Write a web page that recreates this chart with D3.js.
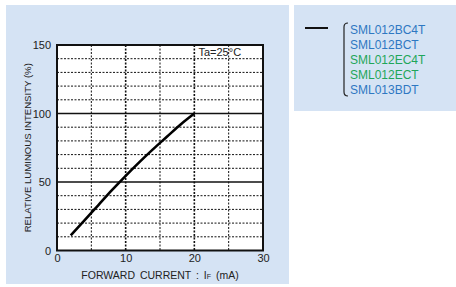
<!DOCTYPE html>
<html lang="en">
<head>
  <meta charset="UTF-8">
  <title>Relative Luminous Intensity vs Forward Current</title>
  <script src="https://d3js.org/d3.v7.min.js"></script>
  <style>
    body { margin: 0; background: #fff; }
    text { font-family: "Liberation Sans", Arial, sans-serif; fill: #222; }
  </style>
</head>
<body>
<svg id="chart"></svg>

<script>
  // data
  var current = [2, 4, 6, 8, 10, 12, 14, 16, 18, 20];
  var intensity = [11, 22, 33, 44, 54.5, 64.5, 74, 83, 92, 100];
  var xTicks = [0, 10, 20, 30];
  var yTicks = [0, 50, 100, 150];
  var parts = ["SML012BC4T", "SML012BCT", "SML012EC4T", "SML012ECT", "SML013BDT"];
  var partColors = ["#2e78c2", "#2e78c2", "#1fa65a", "#1fa65a", "#2e78c2"];

  var svgWidth = 456, svgHeight = 287;
  var margin = { top: 45, left: 57 };
  var width = 206, height = 205.5;
  var panelFill = "#d5e3f4";

  var root = d3.select("#chart")
      .attr("width", svgWidth)
      .attr("height", svgHeight);

  // background panels
  root.append("rect").attr("x", 6).attr("y", 5).attr("width", 283).attr("height", 279).attr("fill", panelFill);
  root.append("rect").attr("x", 294).attr("y", 5).attr("width", 162).attr("height", 106).attr("fill", panelFill);

  var svg = root.append("g")
      .attr("transform", "translate(" + margin.left + "," + margin.top + ")");

  var x = d3.scaleLinear().domain([0, 30]).range([0, width]);
  var y = d3.scaleLinear().domain([0, 150]).range([height, 0]);

  svg.append("rect").attr("width", width).attr("height", height).attr("fill", "#fff");

  // horizontal grid
  var hLines = d3.range(10, 150, 10);
  svg.selectAll(".hgrid")
      .data(hLines)
      .enter().append("line")
      .attr("x1", 0).attr("x2", width)
      .attr("y1", function(d) { return y(d); })
      .attr("y2", function(d) { return y(d); })
      .attr("stroke", "#111")
      .attr("stroke-width", function(d) { return d % 50 === 0 ? 1.6 : 1; })
      .attr("stroke-dasharray", function(d) { return d % 50 === 0 ? null : "2,1.5"; });

  // vertical grid
  var vLines = [5, 10, 15, 20, 25];
  svg.selectAll(".vgrid")
      .data(vLines)
      .enter().append("line")
      .attr("y1", 0).attr("y2", height)
      .attr("x1", function(d) { return x(d); })
      .attr("x2", function(d) { return x(d); })
      .attr("stroke", "#111")
      .attr("stroke-width", function(d) { return d % 10 === 0 ? 1.6 : 1; })
      .attr("stroke-dasharray", "2,1.5");

  // curve
  svg.append("path")
      .datum(current.map(function(c, i) { return [c, intensity[i]]; }))
      .attr("fill", "none")
      .attr("stroke", "#000")
      .attr("stroke-width", 2.6)
      .attr("d", d3.line()
          .x(function(d) { return x(d[0]); })
          .y(function(d) { return y(d[1]); })
          .curve(d3.curveMonotoneX));

  // frame
  svg.append("rect").attr("width", width).attr("height", height)
      .attr("fill", "none").attr("stroke", "#111").attr("stroke-width", 2);

  // axes
  svg.append("g")
      .attr("transform", "translate(0," + height + ")")
      .call(d3.axisBottom(x).tickValues(xTicks).tickSize(0).tickPadding(4))
      .call(function(g) { g.select(".domain").remove(); })
      .selectAll("text").attr("font-size", "11px").attr("fill", "#222").attr("font-family", "Liberation Sans, Arial, sans-serif");

  svg.append("g")
      .call(d3.axisLeft(y).tickValues(yTicks).tickSize(0).tickPadding(6))
      .call(function(g) { g.select(".domain").remove(); })
      .selectAll("text").attr("font-size", "11px").attr("fill", "#222").attr("font-family", "Liberation Sans, Arial, sans-serif");

  svg.append("text")
      .attr("x", x(20.6)).attr("y", 11)
      .attr("font-size", "11px")
      .text("Ta=25°C");

  // axis titles
  var xt = root.append("text")
      .attr("x", 160).attr("y", 279)
      .attr("text-anchor", "middle")
      .attr("font-size", "10.5px")
      .attr("word-spacing", "2px");
  xt.append("tspan").text("FORWARD CURRENT : I");
  xt.append("tspan").attr("font-size", "7px").text("F");
  xt.append("tspan").text(" (mA)");

  root.append("text")
      .attr("transform", "translate(31," + (margin.top + height / 2) + ") rotate(-90)")
      .attr("text-anchor", "middle")
      .attr("font-size", "9.6px")
      .text("RELATIVE LUMINOUS INTENSITY (%)");

  // legend
  root.append("line")
      .attr("x1", 305).attr("x2", 328).attr("y1", 28).attr("y2", 28)
      .attr("stroke", "#111").attr("stroke-width", 2);

  root.append("path")
      .attr("d", "M348,23 Q344,23 344,27 L344,92 Q344,96 348,96")
      .attr("fill", "none").attr("stroke", "#222").attr("stroke-width", 1.2);

  root.selectAll(".part")
      .data(parts)
      .enter().append("text")
      .attr("x", 350)
      .attr("y", function(d, i) { return 33.5 + i * 15; })
      .attr("font-size", "12px")
      .style("fill", function(d, i) { return partColors[i]; })
      .text(function(d) { return d; });
</script>
</body>
</html>
